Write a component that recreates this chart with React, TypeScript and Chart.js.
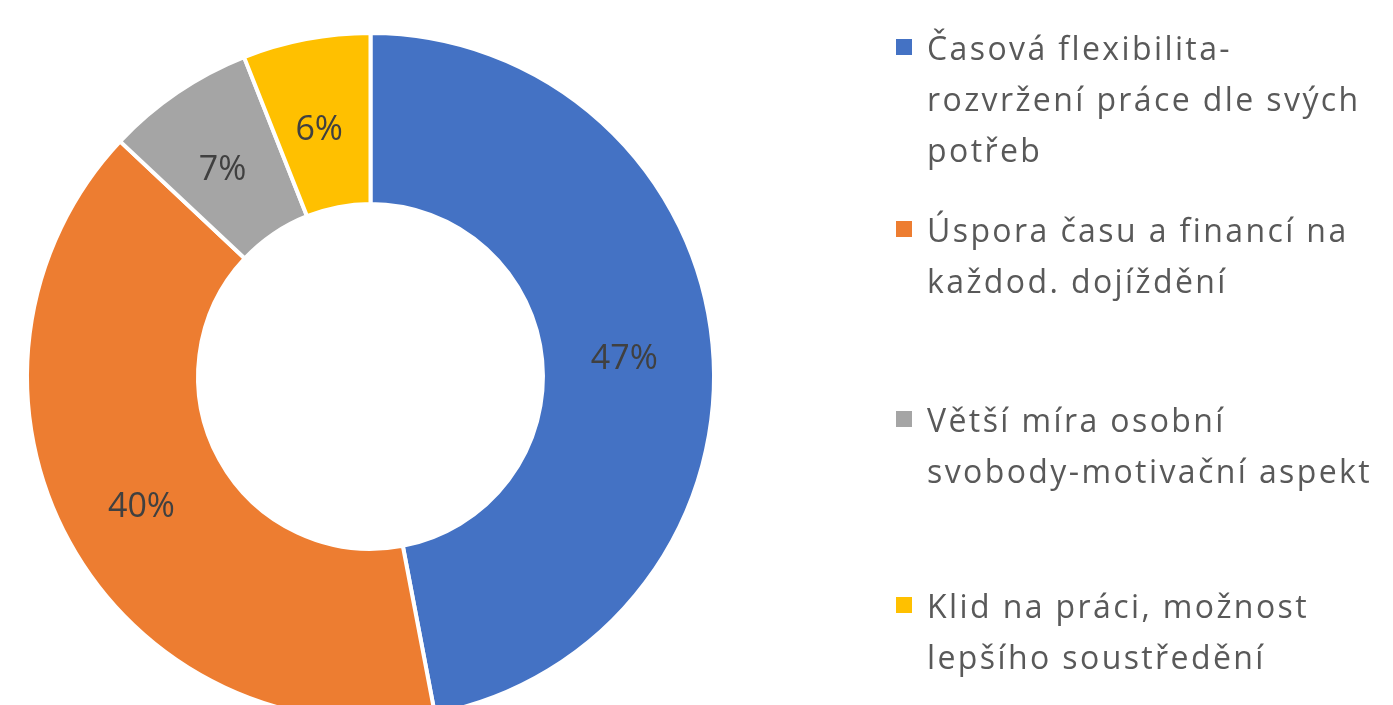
import React, { useEffect, useRef } from "react";
import { Chart, registerables } from "chart.js";

Chart.register(...registerables);

const categories: string[][] = [
  ["Časová flexibilita-", "rozvržení práce dle svých", "potřeb"],
  ["Úspora času a financí na", "každod. dojíždění"],
  ["Větší míra osobní", "svobody-motivační aspekt"],
  ["Klid na práci, možnost", "lepšího soustředění"],
];
const values: number[] = [47, 40, 7, 6];
const valueLabels: string[] = ["47%", "40%", "7%", "6%"];
const colors: string[] = ["#4472C4", "#ED7D31", "#A5A5A5", "#FFC000"];

// legend layout (first-line baselines of each entry)
const legendX = 896;
const legendTextX = 927;
const legendBaselines = [60, 242, 432, 618];
const legendLineHeight = 51;
const legendFont = "32px 'Open Sans', sans-serif";

const labelsPlugin = {
  id: "valueLabels",
  afterDatasetsDraw(chart: any) {
    const ctx = chart.ctx;
    const meta = chart.getDatasetMeta(0);
    ctx.save();
    ctx.fillStyle = "#404040";
    ctx.font = "34px 'Open Sans', sans-serif";
    ctx.textAlign = "center";
    ctx.textBaseline = "middle";
    meta.data.forEach((arc: any, i: number) => {
      const p = arc.tooltipPosition();
      ctx.fillText(valueLabels[i], p.x - 3, p.y + 7);
    });
    ctx.restore();
  },
};

const legendPlugin = {
  id: "sideLegend",
  afterDraw(chart: any) {
    const ctx = chart.ctx;
    ctx.save();
    ctx.font = legendFont;
    (ctx as any).letterSpacing = "2.4px";
    ctx.textBaseline = "alphabetic";
    ctx.textAlign = "left";
    categories.forEach((lines, i) => {
      const base = legendBaselines[i];
      ctx.fillStyle = colors[i];
      ctx.fillRect(legendX, base - 21, 16, 16);
      ctx.fillStyle = "#595959";
      lines.forEach((line, j) => {
        ctx.fillText(line, legendTextX, base + j * legendLineHeight);
      });
    });
    ctx.restore();
  },
};

export default function App() {
  const ref = useRef<HTMLCanvasElement | null>(null);
  useEffect(() => {
    if (!ref.current) return;
    const chart = new Chart(ref.current, {
      type: "doughnut",
      data: {
        labels: categories.map((c) => c.join(" ")),
        datasets: [
          {
            data: values,
            backgroundColor: colors,
            borderColor: "#ffffff",
            borderWidth: 4,
            hoverBorderWidth: 4,
            hoverOffset: 0,
          },
        ],
      },
      options: {
        responsive: false,
        animation: false,
        radius: 343.5,
        cutout: "50.2%",
        layout: { padding: { left: 0, top: 0, right: 652, bottom: 0 } },
        plugins: {
          legend: { display: false },
          tooltip: { enabled: false },
        },
      } as any,
      plugins: [labelsPlugin, legendPlugin],
    });
    return () => chart.destroy();
  }, []);
  return (
    <div
      style={{
        position: "fixed",
        left: 0,
        top: 0,
        width: 1393,
        height: 705,
        overflow: "hidden",
        background: "#ffffff",
      }}
    >
      <canvas ref={ref} width={1393} height={753} style={{ display: "block" }} />
    </div>
  );
}
